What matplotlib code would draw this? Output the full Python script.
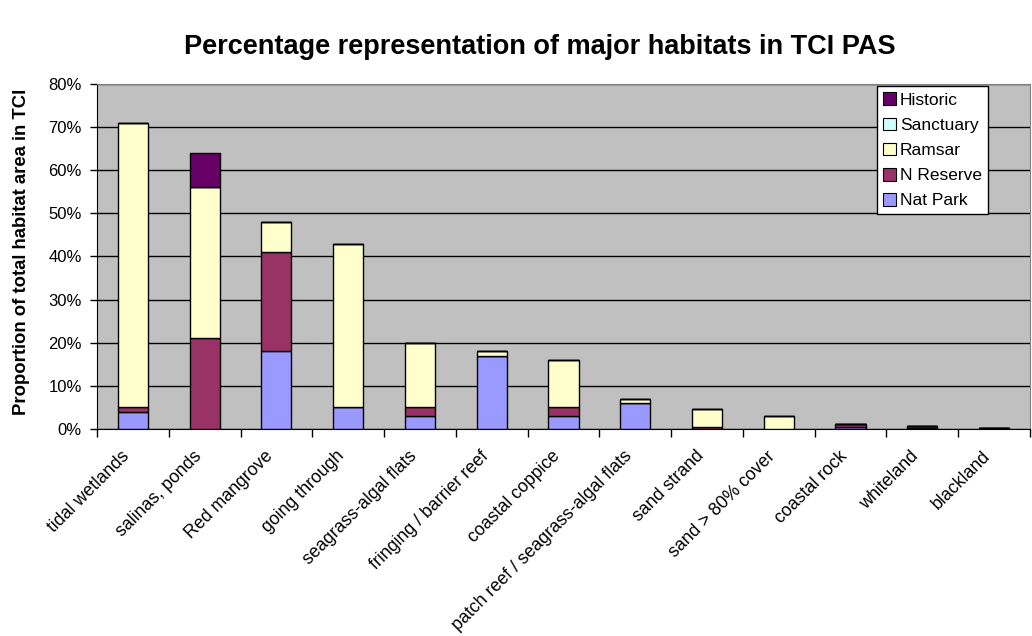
import matplotlib
matplotlib.use("Agg")
import matplotlib.pyplot as plt
import matplotlib.transforms as mtransforms
from matplotlib.patches import Patch
import numpy as np

plt.rcParams['font.family'] = ['Liberation Sans', 'DejaVu Sans']

categories = ["tidal wetlands", "salinas, ponds", "Red mangrove", "going through",
              "seagrass-algal flats", "fringing / barrier reef", "coastal coppice",
              "patch reef / seagrass-algal flats", "sand strand", "sand > 80% cover",
              "coastal rock", "whiteland", "blackland"]

nat_park   = [4, 0, 18, 5, 3, 17, 3, 6, 0, 0, 0.5, 0.3, 0.3]
n_reserve  = [1, 21, 23, 0, 2, 0, 2, 0, 0.4, 0, 0.6, 0.3, 0]
ramsar     = [66, 35, 7, 38, 15, 1, 11, 1, 4.2, 3.1, 0, 0, 0]
sanctuary  = [0, 0, 0, 0, 0, 0, 0, 0, 0, 0, 0, 0, 0]
historic   = [0, 8, 0, 0, 0, 0, 0, 0, 0, 0, 0, 0, 0]

series = [("Nat Park", nat_park, "#9999FF"),
          ("N Reserve", n_reserve, "#993366"),
          ("Ramsar", ramsar, "#FFFFCC"),
          ("Sanctuary", sanctuary, "#CCFFFF"),
          ("Historic", historic, "#660066")]

fig = plt.figure(figsize=(10.32, 6.36), dpi=100)
ax = fig.add_axes([0.094, 0.3255, 0.904, 0.5425])
ax.set_facecolor("#C0C0C0")

x = np.arange(len(categories))
bottom = np.zeros(len(categories))
for name, vals, color in series:
    v = np.array(vals, dtype=float)
    ax.bar(x, v, 0.42, bottom=bottom, color=color, edgecolor="black",
           linewidth=1.0, zorder=3)
    bottom += v

ax.set_xlim(-0.5, len(categories) - 0.5)
ax.set_ylim(0, 80)
ax.set_yticks(np.arange(0, 81, 10))
ax.set_yticklabels([f"{t}%" for t in range(0, 81, 10)], fontsize=12)
ax.yaxis.grid(True, color="black", linewidth=1.0, zorder=1)
ax.set_axisbelow(True)

# category boundaries carry the tick marks; names sit under each bar
ax.set_xticks(np.arange(-0.5, len(categories), 1.0))
ax.set_xticklabels([])
ax.tick_params(axis="x", length=6, width=1, color="black", direction="out")
ax.tick_params(axis="y", length=5, width=1, direction="out", pad=6)

label_tf = ax.get_xaxis_transform() + mtransforms.ScaledTranslation(
    -0.12, -0.185, fig.dpi_scale_trans)
for xi, name in zip(x, categories):
    ax.text(xi, 0, name, transform=label_tf, rotation=45, ha="right", va="top",
            rotation_mode="anchor", fontsize=12.8, clip_on=False)

for s in ["top", "right"]:
    ax.spines[s].set_color("#808080")
for s in ["left", "bottom"]:
    ax.spines[s].set_color("black")

ax.set_ylabel("Proportion of total habitat area in TCI", fontsize=13.3,
              fontweight="bold")
ax.yaxis.set_label_coords(-0.072, 0.514)
fig.suptitle("Percentage representation of major habitats in TCI PAS",
             fontsize=19.5, fontweight="bold", x=0.523, y=0.947)

handles = [Patch(facecolor=c, edgecolor="black", linewidth=0.8, label=n)
           for n, _, c in reversed(series)]
leg = ax.legend(handles=handles, loc="upper right", bbox_to_anchor=(0.957, 0.998),
                fontsize=12.5, frameon=True, fancybox=False, framealpha=1,
                edgecolor="black", handlelength=0.75, handleheight=0.75,
                handletextpad=0.25, labelspacing=0.56, borderpad=0.35,
                borderaxespad=0.1)
leg.get_frame().set_linewidth(1.0)

fig.savefig("out.png", dpi=100)
